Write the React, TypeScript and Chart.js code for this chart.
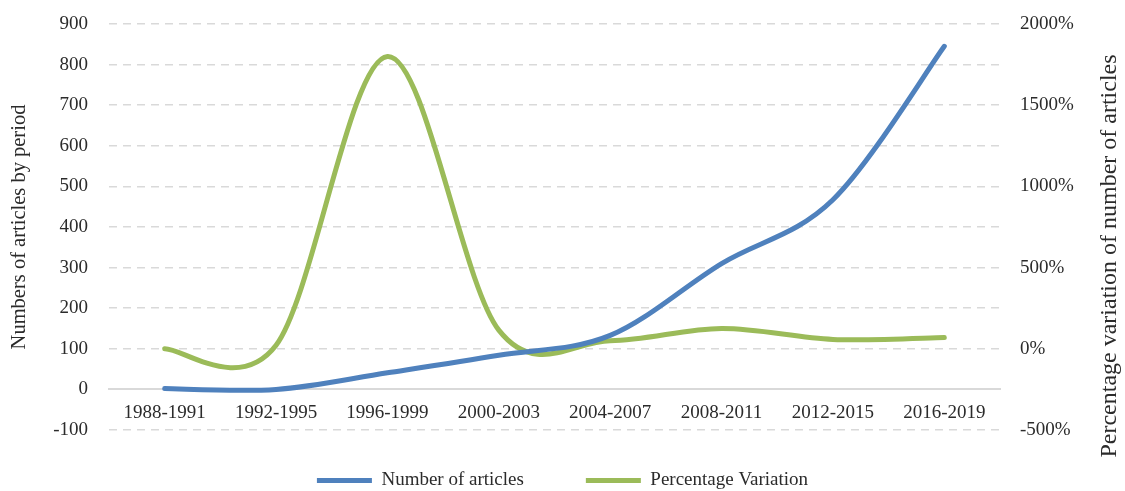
import React, { useEffect, useRef } from "react";
import { Chart, registerables } from "chart.js";

Chart.register(...registerables);

const categories = [
  "1988-1991",
  "1992-1995",
  "1996-1999",
  "2000-2003",
  "2004-2007",
  "2008-2011",
  "2012-2015",
  "2016-2019",
];
const articles = [2, 0, 41, 84, 133, 310, 467, 845];
const variation = [0, 22, 1800, 115, 50, 125, 58, 70];
const leftTicks = { min: -100, max: 900, step: 100 };
const rightTicks = { min: -500, max: 2000, step: 500 };

const FONT = "'Palatino Linotype', 'Book Antiqua', Palatino, 'Liberation Serif', serif";
const TEXT = "#2b2b2b";
const GRID = "#d9d9d9";

// Excel-style smoothing: control points at 1/6 of the neighbour difference
const smoothPlugin = {
  id: "excelSmooth",
  beforeDatasetDraw(chart: any, args: any) {
    const meta = args.meta;
    const pts = meta.data;
    const n = pts.length;
    for (let i = 0; i < n; i++) {
      const p = pts[i];
      const prev = pts[Math.max(i - 1, 0)];
      const next = pts[Math.min(i + 1, n - 1)];
      const dx = (next.x - prev.x) / 6;
      const dy = (next.y - prev.y) / 6;
      p.cp1x = p.x - dx;
      p.cp1y = p.y - dy;
      p.cp2x = p.x + dx;
      p.cp2y = p.y + dy;
    }
    if (meta.dataset) {
      meta.dataset._pointsUpdated = true;
      meta.dataset._path = undefined;
    }
  },
};

const legendPatch = {
  id: "legendPatch",
  beforeLayout(chart: any) {
    const lg = chart.legend;
    if (!lg || lg.__patched) return;
    lg.__patched = true;
    const fit = lg.fit.bind(lg);
    lg.fit = function () {
      fit();
      this.height = 61;
    };
    const draw = lg.draw.bind(lg);
    lg.draw = function () {
      const t = this.top;
      this.top = t - 21;
      draw();
      this.top = t;
    };
  },
};

const rightTitlePlugin = {
  id: "rightTitle",
  afterDraw(chart: any) {
    const ctx = chart.ctx;
    ctx.save();
    ctx.fillStyle = TEXT;
    ctx.font = `24px ${FONT}`;
    ctx.textAlign = "center";
    ctx.textBaseline = "middle";
    ctx.translate(1110, 256);
    ctx.rotate(-Math.PI / 2);
    ctx.fillText("Percentage variation of number of articles", 0, 0);
    ctx.restore();
  },
};

const noVertPadding = (s: any) => {
  s.paddingTop = 0;
  s.paddingBottom = 0;
};

export default function App() {
  const ref = useRef<HTMLCanvasElement | null>(null);
  useEffect(() => {
    document.body.style.margin = "0";
    if (!ref.current) return;
    const chart = new Chart(ref.current, {
      type: "line",
      data: {
        labels: categories,
        datasets: [
          {
            label: "Number of articles",
            data: articles,
            yAxisID: "y",
            borderColor: "#4F81BD",
            backgroundColor: "#4F81BD",
            borderWidth: 5,
            tension: 0.4,
            pointRadius: 0,
            borderCapStyle: "round",
            borderJoinStyle: "round",
            fill: false,
          },
          {
            label: "Percentage Variation",
            data: variation,
            yAxisID: "y1",
            borderColor: "#9BBB59",
            backgroundColor: "#9BBB59",
            borderWidth: 5,
            tension: 0.4,
            pointRadius: 0,
            borderCapStyle: "round",
            borderJoinStyle: "round",
            fill: false,
          },
        ],
      },
      options: {
        animation: false,
        responsive: true,
        maintainAspectRatio: false,
        layout: { padding: { top: 24, left: 0, right: 0, bottom: 0 } },
        plugins: {
          tooltip: { enabled: false },
          legend: {
            position: "bottom",
            labels: {
              boxWidth: 55,
              boxHeight: 5,
              padding: 62,
              color: TEXT,
              font: { family: FONT, size: 19 },
              generateLabels: (c: any) =>
                (Chart.defaults.plugins.legend.labels as any)
                  .generateLabels(c)
                  .map((l: any) => ({ ...l, lineWidth: 0 })),
            },
          },
        },
        scales: {
          x: {
            type: "category",
            position: { y: 0 } as any,
            offset: true,
            grid: { display: false, drawTicks: false },
            border: { display: true, color: GRID, width: 2 },
            ticks: {
              color: TEXT,
              font: { family: FONT, size: 19 },
              padding: 12,
              maxRotation: 0,
              autoSkip: false,
            },
            afterFit: (s: any) => {
              s.height = 0;
            },
          },
          y: {
            position: "left",
            min: leftTicks.min,
            max: leftTicks.max,
            ticks: {
              stepSize: leftTicks.step,
              color: TEXT,
              font: { family: FONT, size: 19 },
              padding: 21,
            },
            grid: {
              drawTicks: false,
              color: (c: any) => (c.tick && c.tick.value === 0 ? "rgba(0,0,0,0)" : GRID),
              lineWidth: 1.5,
            },
            border: { display: false, dash: [8, 6] },
            title: {
              display: true,
              text: "Numbers of articles by period",
              color: TEXT,
              font: { family: FONT, size: 20.5 },
              padding: { top: 7, bottom: 0 },
            },
            afterFit: (s: any) => {
              s.width = 109;
              noVertPadding(s);
            },
          },
          y1: {
            position: "right",
            min: rightTicks.min,
            max: rightTicks.max,
            ticks: {
              stepSize: rightTicks.step,
              color: TEXT,
              font: { family: FONT, size: 19 },
              padding: 20,
              callback: (v: any) => `${v}%`,
            },
            grid: { display: false, drawTicks: false },
            border: { display: false },
            afterFit: (s: any) => {
              s.width = 125;
              noVertPadding(s);
            },
          },
        },
      },
      plugins: [smoothPlugin, legendPatch, rightTitlePlugin],
    });
    return () => chart.destroy();
  }, []);
  return (
    <div style={{ width: "1125px", height: "491px", position: "relative" }}>
      <canvas ref={ref} />
    </div>
  );
}
